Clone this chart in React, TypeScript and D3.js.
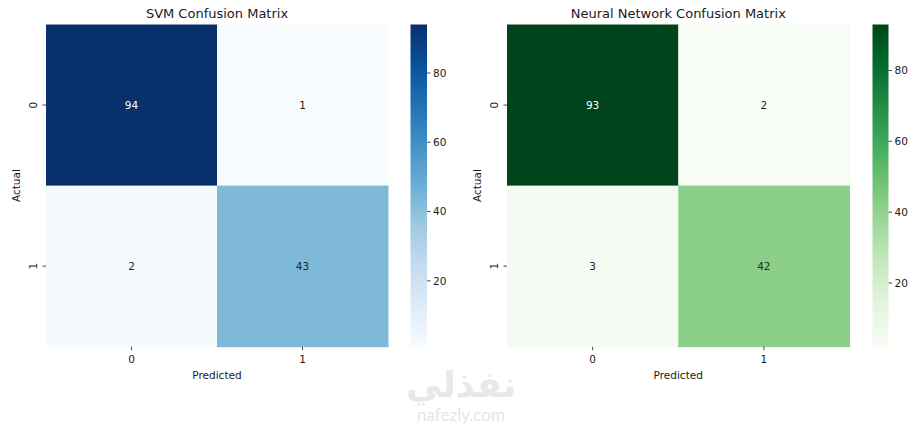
import React from "react";
import * as d3 from "d3";

const classes = ["0", "1"];
const svmValues = [
  [94, 1],
  [2, 43],
];
const nnValues = [
  [93, 2],
  [3, 42],
];
const svmTitle = "SVM Confusion Matrix";
const nnTitle = "Neural Network Confusion Matrix";
const colorbarTicks = [20, 40, 60, 80];
const bluesColors = ["#f7fbff", "#deebf7", "#c6dbef", "#9ecae1", "#6baed6", "#4292c6", "#2171b5", "#08519c", "#08306b"];
const greensColors = ["#f7fcf5", "#e5f5e0", "#c7e9c0", "#a1d99b", "#74c476", "#41ab5d", "#238b45", "#006d2c", "#00441b"];

const FONT = "DejaVu Sans, sans-serif";
const TEXT = "#1a1a1a";

function makeCmap(colors: string[], vmin: number, vmax: number) {
  const n = colors.length;
  const dom = colors.map((_, i) => vmin + ((vmax - vmin) * i) / (n - 1));
  return d3.scaleLinear<string>().domain(dom).range(colors).interpolate(d3.interpolateRgb).clamp(true);
}

function luminance(c: string) {
  const rgb = d3.rgb(c);
  const f = (v: number) => {
    const s = v / 255;
    return s <= 0.03928 ? s / 12.92 : Math.pow((s + 0.055) / 1.055, 2.4);
  };
  return 0.2126 * f(rgb.r) + 0.7152 * f(rgb.g) + 0.0722 * f(rgb.b);
}

type HMProps = {
  id: string;
  values: number[][];
  title: string;
  colors: string[];
  x0: number;
  x1: number;
  cbX0: number;
  cbX1: number;
};

function Heatmap({ id, values, title, colors, x0, x1, cbX0, cbX1 }: HMProps) {
  const top = 24.5;
  const bottom = 346.7;
  const flat = values.flat();
  const vmin = d3.min(flat)!;
  const vmax = d3.max(flat)!;
  const cmap = makeCmap(colors, vmin, vmax);
  const xs = d3.scaleBand().domain(classes).range([x0, x1]);
  const ys = d3.scaleBand().domain(classes).range([top, bottom]);
  const cbScale = d3.scaleLinear().domain([vmin, vmax]).range([bottom, top]);
  const cx = (x0 + x1) / 2;
  const cy = (top + bottom) / 2;
  const gid = "grad-" + id;
  return (
    <g fontFamily={FONT}>
      <defs>
        <linearGradient id={gid} x1="0" y1="1" x2="0" y2="0">
          {colors.map((c, i) => (
            <stop key={i} offset={i / (colors.length - 1)} stopColor={c} />
          ))}
        </linearGradient>
      </defs>
      <text x={cx} y={18} textAnchor="middle" fontSize={13} fill={TEXT}>
        {title}
      </text>
      {values.map((row, i) =>
        row.map((v, j) => {
          const fill = cmap(v);
          const tc = luminance(fill) > 0.408 ? "#262626" : "#ffffff";
          return (
            <g key={`${i}-${j}`}>
              <rect
                x={xs(classes[j])!}
                y={ys(classes[i])!}
                width={xs.bandwidth() + 0.5}
                height={ys.bandwidth() + 0.5}
                fill={fill}
              />
              <text
                x={xs(classes[j])! + xs.bandwidth() / 2}
                y={ys(classes[i])! + ys.bandwidth() / 2}
                dy="0.35em"
                textAnchor="middle"
                fontSize={10.5}
                fill={tc}
              >
                {v}
              </text>
            </g>
          );
        })
      )}
      {classes.map((c) => {
        const px = xs(c)! + xs.bandwidth() / 2;
        return (
          <g key={"xt" + c}>
            <line x1={px} x2={px} y1={bottom} y2={bottom + 3.5} stroke={TEXT} strokeWidth={0.8} />
            <text x={px} y={bottom + 16} textAnchor="middle" fontSize={10.5} fill={TEXT}>
              {c}
            </text>
          </g>
        );
      })}
      {classes.map((c) => {
        const py = ys(c)! + ys.bandwidth() / 2;
        return (
          <g key={"yt" + c}>
            <line x1={x0 - 3.5} x2={x0} y1={py} y2={py} stroke={TEXT} strokeWidth={0.8} />
            <text
              transform={`translate(${x0 - 9},${py}) rotate(-90)`}
              textAnchor="middle"
              fontSize={10.5}
              fill={TEXT}
            >
              {c}
            </text>
          </g>
        );
      })}
      <text x={cx} y={bottom + 32} textAnchor="middle" fontSize={10.5} fill={TEXT}>
        Predicted
      </text>
      <text transform={`translate(${x0 - 26},${cy}) rotate(-90)`} textAnchor="middle" fontSize={10.5} fill={TEXT}>
        Actual
      </text>
      <rect x={cbX0} y={top} width={cbX1 - cbX0} height={bottom - top} fill={`url(#${gid})`} />
      {colorbarTicks.map((t) => (
        <g key={"cbt" + t}>
          <line x1={cbX1} x2={cbX1 + 3.5} y1={cbScale(t)} y2={cbScale(t)} stroke={TEXT} strokeWidth={0.8} />
          <text x={cbX1 + 6} y={cbScale(t)} dy="0.35em" fontSize={10.5} fill={TEXT}>
            {t}
          </text>
        </g>
      ))}
    </g>
  );
}

export default function App() {
  return (
    <svg
      width={924}
      height={426}
      style={{ position: "absolute", left: 0, top: 0, background: "#ffffff" }}
    >
      <rect x={0} y={0} width={924} height={426} fill="#ffffff" />
      <Heatmap id="svm" values={svmValues} title={svmTitle} colors={bluesColors} x0={46} x1={388} cbX0={410.5} cbX1={427} />
      <Heatmap id="nn" values={nnValues} title={nnTitle} colors={greensColors} x0={507} x1={849.5} cbX0={872.5} cbX1={888.5} />
      <text x={461} y={397} textAnchor="middle" fontSize={36} fontWeight="bold" fill="#e8e8e8" fontFamily="DejaVu Sans, sans-serif">
        نفذلي
      </text>
      <text x={461} y={421} textAnchor="middle" fontSize={17} fill="#e6e6e6" fontFamily="Lato, sans-serif">
        nafezly.com
      </text>
    </svg>
  );
}
